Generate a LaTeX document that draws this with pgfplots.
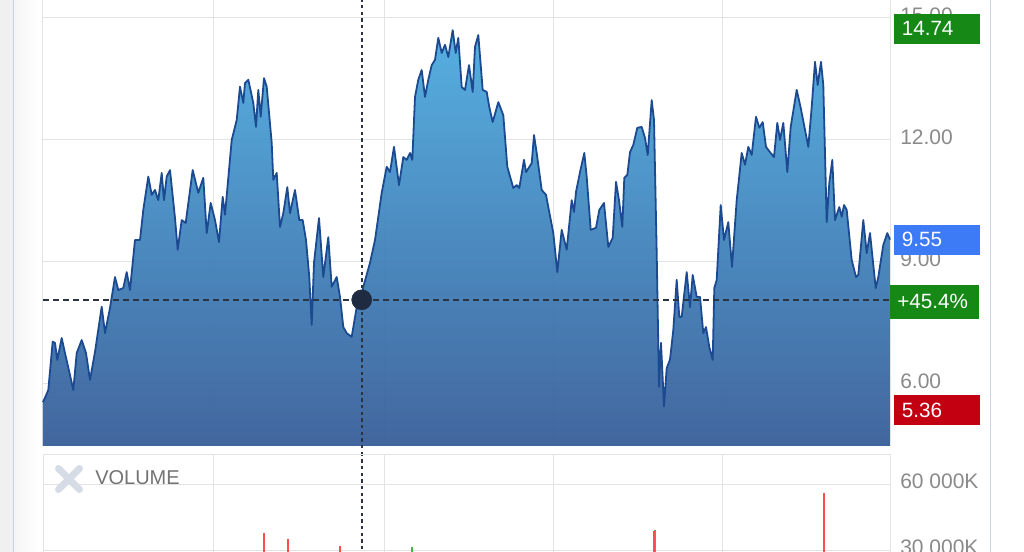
\documentclass[border=0pt]{standalone}
\usepackage{fontspec}
\setmainfont{Liberation Sans}
\usepackage{pgfplots}
\usepackage{pgfplotstable}
\pgfplotsset{compat=1.18}
\definecolor{gridc}{HTML}{E3E3E3}
\definecolor{linec}{HTML}{1C4A91}
\definecolor{topc}{HTML}{4AAADF}
\definecolor{botc}{HTML}{345B97}
\definecolor{labc}{HTML}{8A8A8A}
\definecolor{bgreen}{HTML}{168816}
\definecolor{bblue}{HTML}{3D7AF5}
\definecolor{bred}{HTML}{C20012}
\definecolor{cross}{HTML}{2B3443}
\definecolor{dotc}{HTML}{1E2B40}
\definecolor{vred}{HTML}{FF4D4D}
\definecolor{vgreen}{HTML}{45B545}
\definecolor{framec}{HTML}{C9D3E3}
\definecolor{xcol}{HTML}{D5DCE6}

\pgfplotstableread{
x y
0 5.55
5.3 5.85
9.7 7.04
12 7.01
14.3 6.59
18.7 7.13
22 6.76
27 6.22
30.3 5.85
33.7 6.76
38.7 7.08
43 6.76
47 6.10
52 6.79
58.7 7.90
62 7.25
67 7.87
72 8.63
75.3 8.31
80.3 8.36
83.7 8.75
87 8.31
92 9.54
97 9.54
100.3 10.28
105.3 11.10
108.7 10.65
112 10.77
115.3 10.52
118.7 11.19
121 10.52
123.7 11.10
127 11.26
132 10.08
134.7 9.30
138.7 10.03
142.7 9.96
149.7 11.26
155.3 10.70
160.3 11.07
163.7 9.71
167.7 10.45
172 10.03
176 9.49
179.7 10.60
182 10.16
188.7 12.00
193.7 12.49
197 13.31
200.3 12.91
202 13.40
205.3 13.48
210.3 12.91
213 12.32
215.3 13.23
217.7 12.57
221 13.52
223.7 13.31
228.7 11.93
230.3 11.02
233.7 11.19
237 9.86
240.3 10.20
244.3 10.84
247 10.20
252 10.77
256.3 10.03
259.7 10.03
263 9.54
266.3 8.63
268.7 7.45
271 8.98
276 10.08
280.3 8.63
285.3 9.61
288.7 8.39
293.7 8.63
297 8.14
300.3 7.40
303.7 7.25
308.7 7.16
313.7 7.89
318.7 8.07
320.3 8.39
327 8.98
332 9.54
335.3 10.11
338.7 10.70
343.7 11.34
347 11.21
351 11.83
356 10.89
360.3 11.58
363.7 11.51
367 11.68
369.3 11.51
372 13.06
375.3 13.48
378.7 13.72
382 13.06
385.3 13.48
388.7 13.84
392 13.97
395.3 14.51
398.7 14.14
402 14.34
405.3 14.04
409.7 14.70
412.7 14.14
415.3 14.51
418.7 13.30
422 13.23
426 13.84
429.7 13.18
432 14.29
435.3 14.58
439.7 13.23
443.7 13.18
446.3 12.81
449.7 12.44
455.3 12.93
460.3 12.61
464.3 11.34
470.3 10.82
473.7 10.89
476.3 10.82
481 11.51
483 11.21
488.7 11.43
491 12.12
493.7 11.68
498.7 10.77
503 10.65
505.3 10.35
510.3 9.71
514.3 8.75
518.7 9.79
523.7 9.30
528.7 10.52
531 10.23
533 10.72
537 11.21
541.3 11.68
543.7 11.09
547.7 9.79
553 9.84
556.3 10.28
561 10.45
565.3 9.37
569.7 9.59
573 10.97
576 10.52
579.3 9.86
581.3 11.07
584.3 11.14
587 11.70
590.3 11.88
594.3 12.30
598.7 12.32
602 12.05
604.7 11.63
608.7 12.98
611 12.49
613.7 9.22
616 5.93
618 7.01
621 5.45
623.7 6.39
627 6.60
630.3 7.33
633.7 8.56
636.3 7.65
638.7 7.65
643.7 8.75
647 7.89
649.7 8.68
653.7 8.14
657 8.14
660.3 7.25
663 7.40
666.3 6.91
669.7 6.59
671.3 8.36
673.7 8.56
677.7 10.40
681 9.54
685.3 9.98
689 8.88
693.7 10.52
698.7 11.68
702 11.39
705.3 11.83
708.7 11.63
713 12.57
716.3 12.30
719.7 12.44
723 11.83
727 11.70
731 11.58
734.3 12.42
737 12.00
740.3 12.42
744.3 11.21
747.7 12.32
753.7 13.23
757.7 12.79
762 12.25
765.3 11.83
768.7 12.81
772 13.92
774.7 13.35
778 13.92
780.3 13.35
783.7 9.98
786.3 10.94
789.3 11.51
792 10.03
796.3 10.35
798.7 10.11
801 10.40
803.7 10.28
808.7 9.05
813 8.63
815.3 8.68
820.3 10.03
823.7 9.22
827 9.71
832.7 8.36
835.3 8.63
840.3 9.42
844.3 9.71
847 9.55
}\price

\tikzset{badge/.style={anchor=west, text=white, font=\fontsize{15.5pt}{15.5pt}\selectfont,
  minimum height=22.5pt, inner xsep=6pt, inner ysep=0pt, text width=52.5pt, align=left}}

\begin{document}
\begin{tikzpicture}
\fill[white] (0pt,0pt) rectangle (768pt,414pt);
\fill[black!6] (0pt,0pt) rectangle (9.75pt,414pt);
\shade[left color=black!4, right color=white] (10.125pt,0pt) rectangle (30pt,414pt);
\draw[framec, line width=0.75pt] (10.125pt,0pt) -- (10.125pt,414pt);
\draw[framec, line width=0.75pt] (742.875pt,0pt) -- (742.875pt,414pt);

\begin{axis}[
 at={(32.25pt,79.5pt)}, anchor=south west,
 scale only axis, width=635.25pt, height=334.5pt,
 xmin=0, xmax=847, ymin=4.475, ymax=15.442,
 axis x line*=bottom,
 xtick={170,341,510,679}, xticklabels={},
 ytick={6,9,12,15}, yticklabels={6.00,9.00,12.00,15.00},
 yticklabel pos=right,
 yticklabel style={anchor=west, inner sep=0pt, xshift=7.5pt, yshift=2.25pt, text=labc, font=\fontsize{15.75pt}{15.75pt}\selectfont},
 major tick length=0pt,
 grid=major, major grid style={gridc, line width=0.75pt},
 axis line style={gridc, line width=0.75pt},
 clip=false,
]
\addplot[draw=none, fill opacity=0.93, top color=topc, bottom color=botc] table[x=x,y=y]{\price} -- (axis cs:847,4.475) -- (axis cs:0,4.475) -- cycle;
\addplot[linec, line width=1.35pt, line join=round] table[x=x,y=y]{\price};
\addplot[cross, line width=1.2pt, dash pattern=on 4.5pt off 3pt] coordinates {(0,8.07) (847,8.07)};
\addplot[cross, line width=1.3pt, dash pattern=on 2.6pt off 2.4pt] coordinates {(318.7,4.25) (318.7,15.442)};
\addplot[only marks, mark=*, mark size=7.5pt, mark options={fill=dotc, draw=dotc}] coordinates {(318.7,8.07)};
\coordinate (b1) at (axis cs:850.5,14.74);
\coordinate (b2) at (axis cs:850.5,9.55);
\coordinate (b3) at (axis cs:847,8.02);
\coordinate (b4) at (axis cs:850.5,5.36);
\end{axis}

\node[badge, fill=bgreen] at (b1) {14.74};
\node[badge, fill=bblue] at (b2) {9.55};
\node[badge, fill=bgreen, minimum height=25.5pt, inner xsep=5.25pt, text width=56.25pt] at (b3) {+45.4\%};
\node[badge, fill=bred] at (b4) {5.36};

\begin{axis}[
 at={(32.25pt,72.75pt)}, anchor=north west,
 scale only axis, width=635.25pt, height=120.75pt,
 xmin=0, xmax=847, ymin=0, ymax=73200,
 xtick={170,341,510,679}, xticklabels={},
 ytick={30000,60000}, yticklabels={30 000K,60 000K},
 scaled y ticks=false,
 yticklabel pos=right,
 yticklabel style={anchor=west, inner sep=0pt, xshift=7.5pt, yshift=2.25pt, text=labc, font=\fontsize{15.75pt}{15.75pt}\selectfont},
 major tick length=0pt,
 grid=major, major grid style={gridc, line width=0.75pt},
 axis line style={gridc, line width=0.75pt},
]
\addplot[ycomb, vgreen, line width=1.1pt] coordinates {(369,31400) (611.8,39300)};
\addplot[ycomb, vred, line width=1.1pt] coordinates {(221,37700) (245,35000) (297,31800) (611,38700) (781,55900)};
\addplot[cross, line width=1.3pt, dash pattern=on 2.6pt off 2.4pt] coordinates {(318.7,0) (318.7,73200)};
\end{axis}

\draw[xcol, line width=5.25pt, line cap=round] (43.875pt,46.875pt) -- (59.625pt,62.625pt) (43.875pt,62.625pt) -- (59.625pt,46.875pt);
\node[anchor=west, inner sep=0pt, text=black!55, font=\fontsize{15pt}{15pt}\selectfont] at (71.25pt,55.5pt) {VOLUME};

\pgfresetboundingbox
\useasboundingbox (0pt,0pt) rectangle (768pt,414pt);
\end{tikzpicture}
\end{document}
